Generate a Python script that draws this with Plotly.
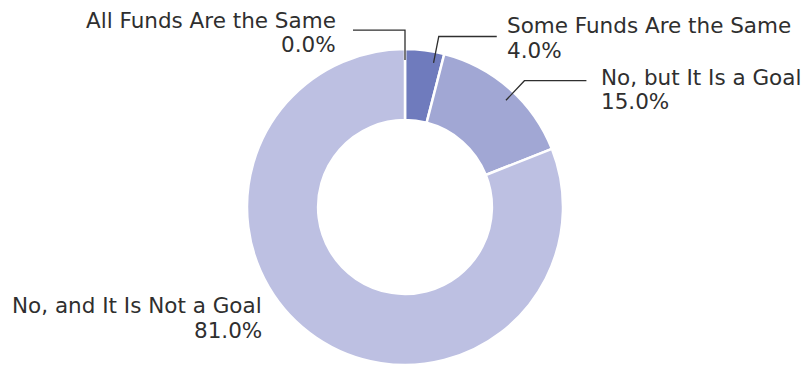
import math
import plotly.graph_objects as go

# Survey answers and their shares (%)
labels = ["All Funds Are the Same", "Some Funds Are the Same",
          "No, but It Is a Goal", "No, and It Is Not a Goal"]
values = [0.0, 4.0, 15.0, 81.0]
colors = ["#4b59a6", "#6f7bbd", "#a1a7d4", "#bdc0e2"]

W, H = 806, 367
CX, CY, R = 405, 207, 158          # donut centre and outer radius (px)
HOLE = 0.55
TEXT = "#2f2f2f"
FONT = "DejaVu Sans"
FSIZE = 21.5
LINE_GAP = 24.5                    # distance between the two text lines (px)

fig = go.Figure(go.Pie(
    labels=labels, values=values, sort=False, direction="clockwise",
    rotation=0, hole=HOLE, textinfo="none", hoverinfo="label+percent",
    marker=dict(colors=colors, line=dict(color="white", width=2.5)),
    domain=dict(x=[(CX - R) / W, (CX + R) / W],
                y=[1 - (CY + R) / H, 1 - (CY - R) / H]),
    showlegend=False,
))


def px_to_paper(x, y):
    return x / W, 1 - y / H


def polar(angle_deg, radius):
    a = math.radians(angle_deg)
    return CX + radius * math.sin(a), CY - radius * math.cos(a)


total = sum(values)
# Per-label leader styling: side (-1 left / +1 right), angular nudge (deg),
# elbow radius factor, horizontal run (px), text gap (px), text offset (px)
label_style = [
    dict(side=-1, leader=True, nudge=0, elbow=1.12, run=52, gap=15, dy=2.5),
    dict(side=1, leader=True, nudge=4, elbow=1.10, run=58, gap=8, dy=1.5),
    dict(side=1, leader=True, nudge=2, elbow=1.10, run=62, gap=13, dy=9),
    dict(side=-1, leader=False),
]

shapes, annotations = [], []
cum = 0.0
for lab, val, st in zip(labels, values, label_style):
    mid = (cum + val / 2) / total * 360
    cum += val
    if st["leader"]:
        ang = mid + st["nudge"]
        x0, y0 = polar(ang, R * 0.93)
        x1, y1 = polar(ang, R * st["elbow"])
        x2 = x1 + st["side"] * st["run"]
        p0, p1, p2 = px_to_paper(x0, y0), px_to_paper(x1, y1), px_to_paper(x2, y1)
        shapes.append(dict(
            type="path", xref="paper", yref="paper",
            path=f"M {p0[0]},{p0[1]} L {p1[0]},{p1[1]} L {p2[0]},{p2[1]}",
            line=dict(color=TEXT, width=1.3)))
        tx_px, ty_px = x2 + st["side"] * st["gap"], y1 + st["dy"]
    else:
        x1, y1 = polar(mid, R * 1.05)
        tx_px, ty_px = x1 - 48, y1 - 26
    for line, off in ((lab, -LINE_GAP / 2), (f"{val:.1f}%", LINE_GAP / 2)):
        tx, ty = px_to_paper(tx_px, ty_px + off)
        annotations.append(dict(
            x=tx, y=ty, xref="paper", yref="paper", text=line, showarrow=False,
            xanchor="left" if st["side"] > 0 else "right", yanchor="middle",
            font=dict(family=FONT, size=FSIZE, color=TEXT)))

fig.update_layout(
    width=W, height=H, margin=dict(l=0, r=0, t=0, b=0),
    paper_bgcolor="white", plot_bgcolor="white",
    shapes=shapes, annotations=annotations,
)

fig.write_html("out.html")
